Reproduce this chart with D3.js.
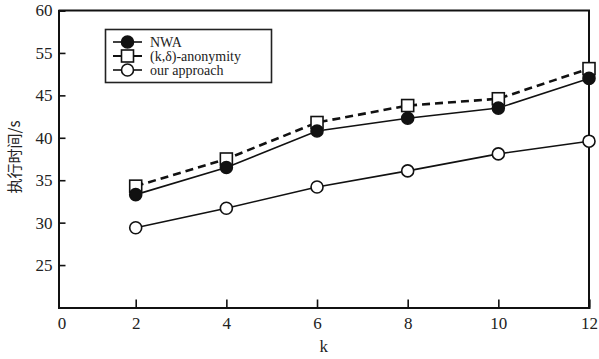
<!DOCTYPE html>
<html><head><meta charset="utf-8">
<script src="https://cdn.jsdelivr.net/npm/d3@7"></script>
<style>
body{margin:0;background:#fff;}
svg{display:block;}
</style></head>
<body><svg id="c" width="599" height="359"></svg>
<script>
// ---- data ----
const kValues = [2, 4, 6, 8, 10, 12];
const nwa = [33.3, 36.5, 40.8, 42.3, 43.5, 49.0];
const kDelta = [34.3, 37.5, 41.8, 43.8, 44.6, 51.3];
const ourApproach = [29.4, 31.7, 34.2, 36.1, 38.1, 39.6];
const seriesNames = ["NWA", "(k,\u03b4)-anonymity", "our approach"];
// y axis as printed on the original (tick marks evenly spaced)
const yTickValues = [20, 25, 30, 35, 40, 45, 55, 60];
const yTickLabels = ["", "25", "30", "35", "40", "45", "55", "60"];
const xTickValues = [0, 2, 4, 6, 8, 10, 12];
const xTickLabels = ["0", "2", "4", "6", "8", "10", "12"];
const xTitle = "k";
const yTitle = "执行时间/s";

// ---- layout ----
const L = 58.5, R = 589, T = 10.5, B = 307.5;
const svg = d3.select("#c");
const serif = "'Liberation Serif','Times New Roman',serif";

const x = d3.scaleLinear().domain([0, 2, 12]).range([L, 135.7, R]);
const yRange = yTickValues.map((d, i) => B - i * (B - T) / (yTickValues.length - 1));
const y = d3.scaleLinear().domain(yTickValues).range(yRange);

// frame (top & right)
svg.append("path").attr("d", `M${L},${T}H${R}V${B}`).attr("fill", "none")
  .attr("stroke", "#111").attr("stroke-width", 2);

// y axis
const yAxis = svg.append("g").attr("transform", `translate(${L},0)`)
  .call(d3.axisLeft(y).tickValues(yTickValues.slice(1, -1)).tickSize(-7).tickPadding(13)
    .tickFormat(d => yTickLabels[yTickValues.indexOf(d)]));
svg.append("text").attr("x", L - 6).attr("y", T).attr("dy", "0.35em")
  .attr("text-anchor", "end").attr("font-family", serif).attr("font-size", 17)
  .attr("fill", "#222").text(yTickLabels[yTickLabels.length - 1]);

// x axis
const xAxis = svg.append("g").attr("transform", `translate(0,${B})`)
  .call(d3.axisBottom(x).tickValues(xTickValues).tickSize(-8).tickPadding(9)
    .tickFormat((d, i) => xTickLabels[i]));
xAxis.selectAll(".tick").filter(d => d === 0).select("line").remove();
xAxis.selectAll(".tick").filter(d => d === 0).select("text").attr("dx", 3);

[yAxis, xAxis].forEach(g => {
  g.select(".domain").attr("stroke", "#111").attr("stroke-width", 2);
  g.selectAll(".tick line").attr("stroke", "#111").attr("stroke-width", 1.6);
  g.selectAll(".tick text").attr("font-family", serif).attr("font-size", 17).attr("fill", "#222");
});
yAxis.selectAll(".tick text").attr("x", -6);

// titles
svg.append("text").attr("x", (L + R) / 2 + 0).attr("y", 352)
  .attr("text-anchor", "middle").attr("font-family", serif).attr("font-size", 17)
  .attr("fill", "#222").text(xTitle);
svg.append("text").attr("transform", "translate(20,157) rotate(-90)")
  .attr("text-anchor", "middle").attr("font-family", "'Noto Sans CJK SC',sans-serif")
  .attr("font-size", 15).attr("fill", "#222").text(yTitle);

// series
const series = [
  {name: seriesNames[0], vals: nwa, dash: null, width: 1.6, marker: "filled"},
  {name: seriesNames[1], vals: kDelta, dash: "8,5", width: 2.6, marker: "square"},
  {name: seriesNames[2], vals: ourApproach, dash: null, width: 1.6, marker: "open"}
];
const line = d3.line().x(d => x(d[0])).y(d => y(d[1]));

function drawMarker(g, type, cx, cy) {
  if (type === "square") {
    g.append("rect").attr("x", cx - 6).attr("y", cy - 6).attr("width", 12).attr("height", 12)
      .attr("fill", "#fff").attr("stroke", "#111").attr("stroke-width", 1.6);
  } else {
    g.append("circle").attr("cx", cx).attr("cy", cy).attr("r", 6)
      .attr("fill", type === "filled" ? "#111" : "#fff").attr("stroke", "#111").attr("stroke-width", 1.6);
  }
}

const order = [1, 0, 2];
order.forEach(si => {
  const s = series[si];
  const pts = kValues.map((k, i) => [k, s.vals[i]]);
  svg.append("path").attr("d", line(pts)).attr("fill", "none").attr("stroke", "#111")
    .attr("stroke-width", s.width).attr("stroke-dasharray", s.dash);
});
order.forEach(si => {
  const s = series[si];
  const g = svg.append("g");
  kValues.forEach((k, i) => drawMarker(g, s.marker, x(k), y(s.vals[i])));
});

// legend
const lg = svg.append("g");
lg.append("rect").attr("x", 105.5).attr("y", 29.5).attr("width", 166).attr("height", 53)
  .attr("fill", "#fff").attr("stroke", "#222").attr("stroke-width", 1.6);
const rowsY = [42, 56, 70];
series.forEach((s, i) => {
  const yy = rowsY[i];
  lg.append("line").attr("x1", 113).attr("x2", 142).attr("y1", yy).attr("y2", yy)
    .attr("stroke", "#111").attr("stroke-width", s.width > 2 ? 2 : 1.6);
  drawMarker(lg, s.marker, 127.5, yy);
  lg.append("text").attr("x", 150).attr("y", yy).attr("dy", "0.35em")
    .attr("font-family", serif).attr("font-size", 14).attr("fill", "#222").text(s.name);
});
</script></body></html>
